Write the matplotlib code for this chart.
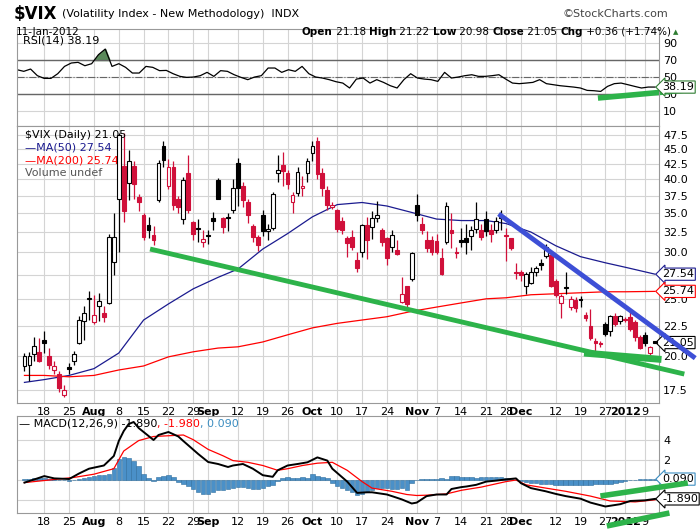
import numpy as np
import pandas as pd
import matplotlib
matplotlib.use("Agg")
import matplotlib.pyplot as plt
from matplotlib.patches import Rectangle

# trading days shown (Jul 12 2011 .. Jan 11 2012)
holidays = ["2011-09-05", "2011-11-24", "2011-12-26", "2012-01-02"]
days = [d for d in pd.bdate_range("2011-07-12", "2012-01-11") if d.strftime("%Y-%m-%d") not in holidays]
day_index = {d.strftime("%Y-%m-%d"): i for i, d in enumerate(days)}

opens = [19.2, 19.3, 20.1, 20.3, 21.3, 20.0, 18.9, 18.6, 17.1, 19.1, 19.6, 21.0, 22.9, 25.0,
         22.8, 24.3, 23.6, 24.6, 28.9, 37.0, 42.1, 39.4, 42.1, 37.3, 34.7, 33.4, 32.1, 36.9, 45.5, 38.9, 42.0, 37.0, 34.2, 41.0, 33.8, 33.0, 31.2,
         32.1, 34.3, 39.9, 34.3, 34.4, 35.5, 42.7, 38.9, 36.6, 33.3, 31.9, 34.7, 32.6, 33.0, 41.0, 42.3, 41.0, 36.6, 37.9, 38.7, 41.0,
         44.3, 46.5, 41.0, 38.4, 35.9, 35.4, 34.0, 31.7, 31.9, 29.1, 30.0, 33.4, 33.2, 34.3, 32.8, 31.7, 30.6, 30.3, 24.7, 26.3, 27.0,
         36.2, 33.5, 31.5, 31.5, 31.4, 29.3, 31.3, 32.7, 30.0, 31.5, 31.8, 32.0, 32.9, 32.7, 34.2, 32.8, 32.7, 34.5, 32.1, 31.7, 27.8,
         27.8, 26.3, 26.6, 27.8, 28.8, 29.6, 29.7, 26.8, 24.6, 26.2, 24.2, 24.9, 25.0, 23.5, 22.5, 21.2, 21.0, 22.6, 22.0, 23.4, 22.9,
         23.1, 23.3, 22.8, 21.5, 21.7, 20.2, 21.18]
highs = [20.2, 20.3, 21.5, 21.4, 22.0, 20.6, 19.6, 18.8, 17.8, 19.4, 20.4, 23.4, 24.3, 25.8,
         25.4, 25.6, 24.3, 32.3, 35.0, 48.0, 48.0, 44.8, 43.0, 37.8, 35.0, 34.5, 33.3, 43.2, 46.5, 43.3, 43.0, 37.5, 40.3, 44.0, 34.0, 34.2, 32.8,
         32.8, 35.2, 40.2, 34.5, 35.0, 40.0, 43.5, 39.5, 37.0, 33.5, 32.1, 35.5, 33.5, 38.0, 44.0, 44.5, 41.5, 38.0, 42.0, 40.5, 43.5,
         46.5, 47.2, 41.8, 38.9, 36.6, 35.6, 34.5, 32.0, 32.7, 30.0, 33.5, 34.5, 35.3, 36.7, 33.0, 31.9, 32.7, 31.5, 27.2, 26.3, 30.0,
         37.8, 34.5, 32.6, 32.0, 32.3, 30.5, 36.5, 35.0, 30.6, 33.0, 33.5, 33.3, 36.6, 33.5, 35.3, 33.5, 34.5, 35.4, 33.0, 31.8, 28.8,
         28.0, 27.8, 28.3, 28.4, 29.2, 31.0, 29.8, 27.0, 25.5, 27.8, 25.3, 25.2, 25.3, 23.7, 24.0, 21.4, 21.2, 22.8, 23.5, 23.6, 23.5,
         23.3, 23.9, 23.0, 21.7, 21.9, 20.8, 21.22]
lows = [18.8, 18.1, 19.6, 19.5, 20.2, 19.0, 18.6, 17.3, 17.0, 18.6, 19.3, 20.9, 21.3, 23.0,
        22.6, 22.9, 22.8, 24.5, 27.5, 30.0, 33.8, 36.8, 37.0, 35.3, 31.5, 31.7, 30.9, 36.5, 42.0, 38.5, 35.5, 35.0, 33.5, 35.0, 31.5, 31.2, 30.7,
        31.0, 32.7, 37.0, 32.4, 32.6, 35.0, 36.0, 35.8, 33.7, 31.3, 30.2, 32.0, 31.5, 32.8, 39.5, 39.0, 38.5, 35.0, 37.5, 37.5, 39.5,
        43.0, 40.0, 37.5, 35.5, 35.6, 32.5, 32.2, 29.5, 30.3, 27.8, 29.5, 29.2, 31.6, 33.8, 30.8, 28.6, 30.0, 29.7, 24.6, 24.2, 26.8,
        34.0, 32.3, 30.0, 29.7, 29.8, 27.5, 31.0, 30.5, 29.3, 30.6, 29.8, 30.3, 32.4, 31.5, 32.0, 31.3, 32.4, 32.8, 29.0, 30.3, 27.0,
        26.8, 25.5, 26.5, 27.3, 28.0, 29.3, 26.2, 25.2, 23.2, 25.5, 23.9, 23.7, 24.2, 22.9, 21.3, 20.0, 20.7, 21.6, 21.6, 22.5, 22.6,
        22.8, 22.0, 21.2, 20.5, 20.8, 20.0, 20.98]
closes = [20.0, 20.0, 20.8, 19.6, 21.0, 19.3, 19.2, 17.6, 17.5, 19.0, 20.1, 23.0, 23.6, 25.1,
          23.5, 24.8, 23.3, 31.9, 31.9, 47.5, 35.3, 42.9, 39.2, 36.5, 31.9, 32.8, 31.5, 42.7, 43.2, 42.0, 36.2, 35.9, 39.9, 35.4, 32.3, 32.9, 31.6,
          32.0, 33.9, 37.0, 33.2, 34.3, 38.6, 38.7, 36.9, 34.7, 31.9, 30.9, 32.6, 32.9, 37.7, 41.5, 41.3, 39.2, 37.6, 41.2, 39.0, 43.0,
          45.5, 40.8, 38.6, 36.2, 36.1, 32.9, 32.7, 31.1, 30.6, 28.2, 33.4, 31.5, 34.3, 34.7, 31.3, 29.3, 32.1, 29.8, 25.5, 24.5, 29.9,
          34.7, 32.7, 30.5, 30.1, 30.0, 27.6, 36.0, 32.4, 29.9, 31.2, 31.2, 32.7, 34.2, 31.9, 32.6, 32.3, 33.9, 34.4, 32.0, 30.5, 27.7,
          27.4, 27.6, 27.8, 28.2, 28.6, 30.6, 26.3, 25.4, 25.3, 26.1, 25.0, 24.1, 24.9, 23.2, 21.4, 21.0, 20.9, 21.8, 23.4, 22.6, 23.4,
          23.0, 22.2, 21.5, 20.6, 21.0, 20.7, 21.05]

ma_dates = ["2011-07-12", "2011-07-18", "2011-07-25", "2011-08-01", "2011-08-08", "2011-08-15", "2011-08-22", "2011-08-29",
            "2011-09-06", "2011-09-12", "2011-09-19", "2011-09-26", "2011-10-03", "2011-10-10", "2011-10-17", "2011-10-24",
            "2011-10-31", "2011-11-07", "2011-11-14", "2011-11-21", "2011-11-28", "2011-12-05", "2011-12-12", "2011-12-19",
            "2011-12-27", "2012-01-03", "2012-01-11"]
ma50 = [18.0, 18.2, 18.5, 19.0, 20.2, 23.0, 24.5, 26.0, 27.2, 28.1, 30.4, 32.3, 34.5, 36.2, 36.5, 36.0,
        35.1, 34.2, 34.0, 34.0, 33.6, 32.5, 30.8, 29.5, 28.8, 28.3, 27.54]
ma200 = [18.5, 18.5, 18.4, 18.5, 18.9, 19.2, 19.9, 20.3, 20.6, 20.7, 21.1, 21.7, 22.3, 22.7, 23.0, 23.3,
         23.8, 24.2, 24.6, 25.0, 25.1, 25.4, 25.5, 25.6, 25.7, 25.7, 25.74]

rsi = [58.6, 56.7, 59.4, 51.6, 48.4, 48.4, 53.9, 62.5, 66.5, 67.3, 63.3, 65.7, 76.3, 82.9, 62.5, 65.7, 61.4, 54.7, 54.7, 62.5,
       61.4, 57.5, 57.8, 53.9, 50.8, 49.6, 50.0, 51.6, 55.5, 50.8, 57.5, 56.7, 52.7, 49.6, 46.9, 50.0, 51.6, 60.6, 60.6, 55.5,
       58.6, 56.7, 62.5, 53.9, 50.0, 48.8, 46.9, 44.5, 42.9, 37.1, 47.6, 48.8, 42.9, 46.9, 43.7, 39.8, 37.1, 46.9, 53.9, 48.8,
       47.6, 46.9, 44.9, 55.5, 48.8, 50.0, 51.6, 52.7, 50.8, 50.8, 51.6, 52.7, 47.6, 42.9, 42.2, 42.9, 43.7, 46.9, 42.2, 41.0,
       39.8, 39.0, 38.2, 37.1, 34.3, 33.9, 33.1, 39.0, 42.2, 42.9, 41.0, 39.0, 37.1, 38.2, 38.19]

macd_day = [0, 2, 4, 6, 9, 11, 13, 16, 18, 19, 20, 21, 22, 23, 24, 26, 27, 29, 31, 32, 35, 37, 39, 41, 42, 44, 46, 48, 50, 51,
            53, 55, 57, 59, 61, 62, 65, 67, 69, 70, 73, 74, 76, 78, 79, 81, 83, 85, 86, 88, 89, 91, 93, 95, 97, 99, 100, 102,
            105, 107, 109, 112, 114, 117, 120, 122, 125, 127]
macd = [-0.26, 0.06, 0.39, 0.16, 0.1, 0.65, 1.13, 1.45, 2.4, 3.9, 4.9, 5.6, 5.8, 5.2, 4.8, 4.0, 4.5, 4.8, 4.35, 3.9, 2.6, 1.8,
        1.6, 1.3, 1.45, 1.6, 1.13, 0.48, 0.32, 0.97, 1.45, 1.6, 1.77, 2.26, 1.94, 1.13, -0.16, -1.29, -1.23, -1.23, -1.45, -1.61,
        -1.94, -2.35, -2.26, -1.61, -1.45, -1.45, -0.9, -0.71, -0.65, -0.48, -0.16, -0.06, 0.06, 0.16, -0.32, -0.81, -1.13, -1.39,
        -1.61, -1.87, -2.26, -2.65, -2.42, -2.1, -2.03, -1.89]
signal_day = [0, 5, 10, 14, 18, 20, 23, 26, 30, 32, 34, 37, 40, 42, 45, 48, 51, 53, 56, 59, 62, 65, 68, 70, 74, 77, 79, 81, 85,
              88, 92, 97, 99, 101, 105, 109, 114, 118, 123, 127]
signal = [-0.26, 0.0, 0.26, 0.58, 1.13, 2.9, 3.94, 4.35, 4.45, 4.5, 4.03, 3.06, 2.42, 1.94, 1.77, 1.45, 0.97, 1.13, 1.45, 1.68,
          1.77, 0.97, -0.16, -0.81, -1.13, -1.45, -1.55, -1.52, -1.39, -1.03, -0.71, -0.16, 0.0, -0.48, -0.81, -1.13, -1.61, -2.1,
          -2.19, -1.98]
hist = [0.1, 0.15, 0.2, 0.25, 0.2, 0.15, 0.1, 0.05, 0, -0.05, 0.0, 0.1, 0.2, 0.3, 0.4, 0.5, 0.5, 0.6, 1.2, 2.1, 2.3, 2.2, 1.9,
        1.4, 0.6, 0.2, -0.1, 0.3, 0.4, 0.5, 0.3, -0.2, -0.4, -0.6, -0.9, -1.2, -1.4, -1.4, -1.2, -1.0, -1.0, -0.9, -0.8,
        -0.7, -0.7, -0.8, -0.9, -0.9, -0.8, -0.6, -0.5, -0.1, 0.2, 0.3, 0.2, 0.25, 0.3, 0.2, 0.6, 0.4, 0.3, 0.2, -0.3, -0.6, -0.8,
        -1.0, -1.2, -1.5, -1.4, -1.2, -1.0, -0.8, -0.8, -0.8, -0.9, -0.9, -0.8, -1.0, -0.3, 0.0, 0.1, 0.1, 0.1, 0.1, 0.2, 0.1,
        0.4, 0.4, 0.35, 0.3, 0.3, 0.25, 0.3, 0.35, 0.3, 0.3, 0.3, 0.2, 0.1, 0.0, -0.1, -0.2,
        -0.3, -0.3, -0.35, -0.4, -0.4, -0.45, -0.45, -0.45, -0.45, -0.45, -0.45, -0.45, -0.45, -0.4, -0.4, -0.4, -0.35, -0.3,
        -0.2, -0.1, 0.0, 0.05, 0.1, 0.1, 0.09, 0.09]

tick_dates = ["2011-07-18", "2011-07-25", "2011-08-01", "2011-08-08", "2011-08-15", "2011-08-22", "2011-08-29", "2011-09-01",
              "2011-09-12", "2011-09-19", "2011-09-26", "2011-10-03", "2011-10-10", "2011-10-17", "2011-10-24", "2011-11-01",
              "2011-11-07", "2011-11-14", "2011-11-21", "2011-11-28", "2011-12-01", "2011-12-12", "2011-12-19", "2011-12-27",
              "2012-01-03", "2012-01-09"]
tick_labels = ["18", "25", "Aug", "8", "15", "22", "29", "Sep", "12", "19", "26", "Oct", "10", "17", "24", "Nov",
               "7", "14", "21", "28", "Dec", "12", "19", "27", "2012", "9"]
bold_labels = {"Aug", "Sep", "Oct", "Nov", "Dec", "2012"}

# hand-drawn trendlines: (day, value) endpoints
price_green = [(25.3, 30.4), (132.9, 18.6)]
price_green2 = [(112.7, 20.2), (128.3, 19.7)]
price_blue = [(95.5, 34.9), (135.1, 19.8)]
rsi_green = [(115.5, 25.3), (133.2, 34.7)]
macd_green = [(116.0, -1.6), (133.6, -0.3)]
macd_green2 = [(117.3, -4.6), (129.9, -3.3)]

RED = "#D0103A"
NAVY = "#1B1B8F"
GRID = "#D4D4D4"
GREEN = "#2DB34A"
n = len(closes)
xs = np.arange(n)
ticks = [day_index[d] for d in tick_dates]

fig = plt.figure(figsize=(7, 5.3), dpi=100)
L, W = 17 / 700, 642 / 700
ax_rsi = fig.add_axes([L, 1 - 126 / 530, W, 97 / 530])
ax_p = fig.add_axes([L, 1 - 403 / 530, W, 277 / 530])
ax_m = fig.add_axes([L, 1 - 513 / 530, W, 97 / 530])


def style(ax, show_labels):
    ax.set_xlim(-1.5, n - 0.2)
    ax.set_xticks(ticks)
    ax.grid(True, color=GRID, linewidth=0.8)
    ax.set_axisbelow(True)
    ax.yaxis.tick_right()
    ax.tick_params(length=0, labelsize=8, pad=3)
    for s in ax.spines.values():
        s.set_color("#999999")
    if show_labels:
        ax.set_xticklabels(tick_labels)
        for lab in ax.get_xticklabels():
            if lab.get_text() in bold_labels:
                lab.set_fontweight("bold")
    else:
        ax.set_xticklabels([])


def run_text(x, y, parts, size):
    # consecutive text pieces in figure coords
    r = fig.canvas.get_renderer()
    for t, c, b in parts:
        tt = fig.text(x, y, t, fontsize=size, color=c, fontweight="bold" if b else "normal", va="center", zorder=10)
        x += tt.get_window_extent(renderer=r).width / fig.bbox.width
    return x


# RSI panel
style(ax_rsi, False)
ax_rsi.set_ylim(-7.6, 106.5)
ax_rsi.set_yticks([10, 30, 50, 70, 90])
ax_rsi.axhline(70, color="#666666", lw=1)
ax_rsi.axhline(30, color="#666666", lw=1)
ax_rsi.axhline(50, color="#666666", lw=0.8, ls="-.")
rx = np.linspace(-1.5, n - 1, len(rsi))
ax_rsi.plot(rx, rsi, color="black", lw=0.9)
ax_rsi.fill_between(rx, rsi, 70, where=np.array(rsi) > 70, color="#5A8A5A", interpolate=True)
(x0, y0), (x1, y1) = rsi_green
ax_rsi.plot([x0, x1], [y0, y1], color=GREEN, lw=4, clip_on=False, solid_capstyle="butt")
ax_rsi.text(0.01, 0.93, "RSI(14) 38.19", transform=ax_rsi.transAxes, fontsize=8, va="top")
ax_rsi.annotate("38.19", xy=(1.005, rsi[-1]), xycoords=("axes fraction", "data"), fontsize=8, va="center",
                bbox=dict(boxstyle="larrow,pad=0.1", fc="white", ec="#2e7d32", lw=0.8))

# price panel
style(ax_p, True)
ax_p.set_yscale("log")
pt = [17.5, 20.0, 22.5, 25.0, 27.5, 30.0, 32.5, 35.0, 37.5, 40.0, 42.5, 45.0, 47.5]
ax_p.set_yticks(pt)
ax_p.set_yticklabels([f"{v:.1f}" for v in pt])
ax_p.yaxis.set_minor_locator(matplotlib.ticker.NullLocator())
ax_p.set_ylim(16.6, 49.3)
for i in range(n):
    o, h, lo, c = opens[i], highs[i], lows[i], closes[i]
    col = RED if i > 0 and c < closes[i - 1] else "black"
    ax_p.vlines(xs[i], lo, h, color=col, lw=0.9, zorder=3)
    bot, top = min(o, c), max(o, c)
    if top - bot < 0.12:
        top = bot + 0.12
    face = col if c < o else "white"
    ax_p.add_patch(Rectangle((xs[i] - 0.38, bot), 0.76, top - bot, facecolor=face, edgecolor=col, lw=0.8, zorder=4))
mx = [day_index[d] for d in ma_dates]
ax_p.plot(mx, ma50, color=NAVY, lw=0.9, zorder=2)
ax_p.plot(mx, ma200, color="red", lw=0.9, zorder=2)
for pts, col, lw in [(price_green, GREEN, 3.5), (price_green2, GREEN, 5), (price_blue, "#3D4FD6", 3.5)]:
    (x0, y0), (x1, y1) = pts
    ax_p.plot([x0, x1], [y0, y1], color=col, lw=lw, clip_on=False, zorder=5, solid_capstyle="butt")
legend = [("$VIX (Daily) 21.05", "black"), ("MA(50) 27.54", NAVY), ("MA(200) 25.74", "red"), ("Volume undef", "#555555")]
for k, (t, c) in enumerate(legend):
    ax_p.text(0.012, 0.985 - k * 0.045, ("\u2014" if k in (1, 2) else "") + t, transform=ax_p.transAxes,
              fontsize=8, color=c, va="top")
for val, txt, ec in [(ma50[-1], "27.54", NAVY), (ma200[-1], "25.74", "red"), (closes[-1], "21.05", "black")]:
    ax_p.annotate(txt, xy=(1.005, val), xycoords=("axes fraction", "data"), fontsize=8, va="center",
                  bbox=dict(boxstyle="larrow,pad=0.1", fc="white", ec=ec, lw=0.8))

# MACD panel
style(ax_m, True)
ax_m.set_ylim(-3.3, 6.4)
ax_m.set_yticks([-2, 0, 2, 4])
ax_m.set_yticklabels(["", "", "2", "4"])
ax_m.bar(xs, hist, width=0.9, color="#4A90C8", edgecolor="#2E6E9E", lw=0.4, zorder=2)
ax_m.plot(signal_day, signal, color="red", lw=0.9, zorder=3)
ax_m.plot(macd_day, macd, color="black", lw=1.4, zorder=4)
for pts in (macd_green, macd_green2):
    (x0, y0), (x1, y1) = pts
    ax_m.plot([x0, x1], [y0, y1], color=GREEN, lw=4, clip_on=False, zorder=5, solid_capstyle="butt")
for val, txt, ec in [(hist[-1], "0.090", "#3C8DC0"), (macd[-1], "-1.890", "black")]:
    ax_m.annotate(txt, xy=(1.005, val), xycoords=("axes fraction", "data"), fontsize=8, va="center",
                  bbox=dict(boxstyle="larrow,pad=0.1", fc="white", ec=ec, lw=0.8))

# header
fig.canvas.draw()
x = run_text(14 / 700, 1 - 14 / 530, [("$VIX", "black", True)], 12)
fig.text(x + 4 / 700, 1 - 14 / 530, "(Volatility Index - New Methodology)  INDX", fontsize=8, va="center")
fig.text(16 / 700, 1 - 32 / 530, "11-Jan-2012", fontsize=7.5, va="center")
fig.text(668 / 700, 1 - 14 / 530, "\u00a9StockCharts.com", fontsize=8, va="center", ha="right", color="#444444")
x = run_text(302 / 700, 1 - 32 / 530,
             [("Open", "black", True), (" 21.18 ", "black", False), ("High", "black", True), (" 21.22 ", "black", False),
              ("Low", "black", True), (" 20.98 ", "black", False), ("Close", "black", True), (" 21.05 ", "black", False),
              ("Chg", "black", True), (" +0.36 (+1.74%)", "black", False)], 7.5)
fig.text(x + 0.003, 1 - 32 / 530, "\u25b2", fontsize=5, color="#2e7d32", va="center")
run_text(19 / 700, 1 - 424 / 530,
         [("\u2014 MACD(12,26,9) -1.890", "black", False), (", -1.980", "red", False), (", 0.090", "#3C8DC0", False)], 8)

fig.savefig("out.png", dpi=100, facecolor="white")
